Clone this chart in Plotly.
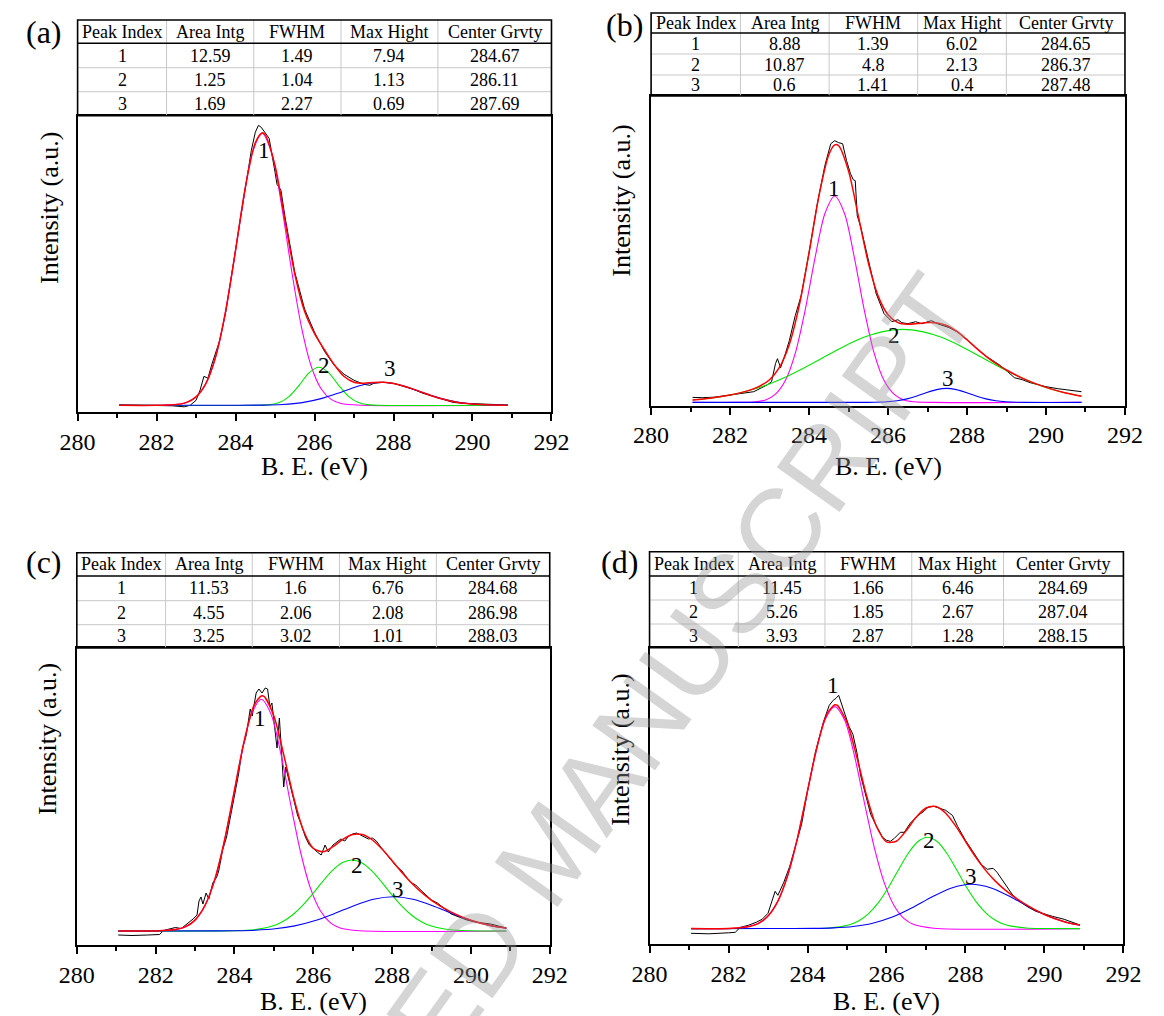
import plotly.graph_objects as go

# ---------------- data ----------------
col_headers = ["Peak Index", "Area Intg", "FWHM", "Max Hight", "Center Grvty"]
peak_index = ["1", "2", "3"]

# panel (a)
a_area = ["12.59", "1.25", "1.69"]
a_fwhm = ["1.49", "1.04", "2.27"]
a_maxh = ["7.94", "1.13", "0.69"]
a_center = ["284.67", "286.11", "287.69"]
a_raw_x = [281.05, 281.5, 282.0, 282.4, 282.7, 282.85, 283.0, 283.1, 283.2, 283.3, 283.4, 283.5, 283.6, 283.75,
           284.0, 284.25, 284.4, 284.5, 284.58, 284.65, 284.75, 284.85, 285.0, 285.05, 285.15, 285.25, 285.5,
           285.75, 286.0, 286.25, 286.5, 286.75, 287.0, 287.25, 287.4, 287.5, 287.75, 288.0, 288.25, 288.5,
           288.75, 289.0, 289.25, 289.5, 289.75, 290.0, 290.25, 290.5, 290.9]
a_raw_y = [7.5, 7.3, 7.0, 6.5, 5.5, 7.0, 12, 22, 36, 34, 48, 60, 72, 100, 163, 228, 262, 280, 287, 285, 280,
           274, 240, 228, 222, 196, 140, 103, 80, 61, 47, 38, 32, 28, 27, 29, 30, 29, 26, 23, 19, 16, 13, 10,
           9, 8.5, 8, 7.5, 7.3]
a_fit_x = [281.05, 282.0, 282.5, 282.75, 283.0, 283.25, 283.5, 283.75, 284.0, 284.25, 284.5, 284.67, 284.75,
           285.0, 285.25, 285.5, 285.75, 286.0, 286.25, 286.5, 286.75, 287.0, 287.25, 287.5, 287.75, 288.0,
           288.5, 289.0, 289.5, 290.0, 290.5, 290.9]
a_fit_y = [7.0, 7.0, 7.8, 9.7, 15.4, 28.9, 56.0, 101.5, 162.0, 225.4, 269.5, 279.4, 277.4, 246.5, 192.3,
           138.3, 100.7, 78.7, 62.6, 47.6, 35.8, 30.1, 29.1, 29.9, 30.0, 28.8, 23.2, 16.1, 10.9, 8.3, 7.3, 7.1]
a_p1_x = [281.05, 282.17, 282.67, 282.92, 283.17, 283.42, 283.67, 283.92, 284.17, 284.42, 284.67, 284.92,
          285.17, 285.42, 285.67, 285.92, 286.17, 286.42, 286.67, 287.17, 290.9]
a_p1_y = [7.0, 7.1, 8.8, 12.9, 23.3, 45.6, 85.0, 141.6, 206.0, 258.6, 279.0, 258.6, 206.0, 141.6, 85.0, 45.6,
          23.3, 12.9, 8.8, 7.1, 7.0]
a_p2_x = [281.05, 284.61, 284.86, 285.11, 285.36, 285.61, 285.86, 286.11, 286.36, 286.61, 286.86, 287.11,
          287.36, 287.61, 290.9]
a_p2_y = [7.0, 7.1, 7.7, 9.9, 16.0, 27.0, 39.4, 45.0, 39.4, 27.0, 16.0, 9.9, 7.7, 7.1, 7.0]
a_p3_x = [281.05, 283.69, 284.69, 285.19, 285.69, 286.19, 286.69, 287.19, 287.69, 288.19, 288.69, 289.19,
          289.69, 290.19, 290.69, 290.9]
a_p3_y = [7.0, 7.05, 7.2, 7.8, 9.7, 13.9, 20.4, 27.1, 30.0, 27.1, 20.4, 13.9, 9.7, 7.8, 7.2, 7.1]
a_lab_x = [284.72, 286.24, 287.92]
a_lab_y = [262, 47, 44]

# panel (b)
b_area = ["8.88", "10.87", "0.6"]
b_fwhm = ["1.39", "4.8", "1.41"]
b_maxh = ["6.02", "2.13", "0.4"]
b_center = ["284.65", "286.37", "287.48"]
b_raw_x = [281.05, 281.3, 281.6, 282.0, 282.3, 282.6, 282.8, 282.95, 283.05, 283.15, 283.2, 283.28, 283.4,
           283.5, 283.65, 283.8, 284.0, 284.2, 284.4, 284.55, 284.65, 284.75, 284.85, 284.95, 285.05, 285.12,
           285.17, 285.22, 285.3, 285.5, 285.7, 285.9, 286.1, 286.25, 286.35, 286.5, 286.7, 286.85, 287.0,
           287.1, 287.25, 287.4, 287.55, 287.75, 288.0, 288.25, 288.5, 288.7, 288.85, 289.0, 289.2, 289.4,
           289.6, 289.8, 290.0, 290.3, 290.6, 290.9]
b_raw_y = [8.3, 8.0, 8.5, 10.5, 12.0, 14.0, 18.0, 21.0, 24.0, 42, 47, 38, 52, 65, 90, 110, 153, 200, 240, 262,
           265, 263, 262, 245, 232, 226, 225, 190, 180, 145, 112, 92, 84, 86, 83, 82, 84, 82, 84, 85, 82, 80,
           78, 74, 66, 57, 49, 44, 40, 35, 28, 26, 23, 21, 19, 17, 15.5, 14.0]
b_fit_x = [281.05, 281.5, 282.0, 282.5, 282.75, 283.0, 283.25, 283.5, 283.75, 284.0, 284.25, 284.5, 284.65,
           284.75, 285.0, 285.25, 285.5, 285.75, 286.0, 286.25, 286.5, 286.75, 287.0, 287.25, 287.5, 287.75,
           288.0, 288.25, 288.5, 288.75, 289.0, 289.5, 290.0, 290.5, 290.9]
b_fit_y = [5.7, 7.5, 10.6, 15.6, 19.6, 26.0, 38.3, 61.3, 99.9, 153.0, 209.9, 251.0, 260.8, 260.0, 234.6,
           189.2, 143.2, 109.6, 90.9, 83.1, 81.4, 82.1, 83.1, 82.8, 79.9, 74.0, 65.9, 57.1, 48.9, 41.7, 35.7,
           25.8, 18.3, 12.7, 9.5]
b_p1_x = [281.05, 282.15, 282.65, 282.9, 283.15, 283.4, 283.65, 283.9, 284.15, 284.4, 284.65, 284.9, 285.15,
          285.4, 285.65, 285.9, 286.15, 286.4, 286.65, 287.15, 290.9]
b_p1_y = [3.3, 3.3, 4.0, 5.8, 11.6, 25.2, 52.4, 95.4, 147.6, 192.0, 209.7, 192.0, 147.6, 95.4, 52.4, 25.2,
          11.6, 5.8, 4.0, 3.3, 3.3]
b_p2_x = [281.05, 281.37, 281.87, 282.37, 282.87, 283.37, 283.87, 284.37, 284.87, 285.37, 285.87, 286.37,
          286.87, 287.37, 287.87, 288.37, 288.87, 289.37, 289.87, 290.37, 290.9]
b_p2_y = [5.7, 6.9, 9.7, 14.0, 20.0, 28.0, 37.8, 48.4, 59.0, 68.1, 74.1, 76.3, 74.1, 68.1, 59.0, 48.4, 37.8,
          28.0, 20.0, 14.0, 9.5]
b_p3_x = [281.05, 285.48, 285.98, 286.23, 286.48, 286.73, 286.98, 287.23, 287.48, 287.73, 287.98, 288.23,
          288.48, 288.73, 288.98, 289.48, 290.9]
b_p3_y = [3.3, 3.35, 3.9, 4.9, 6.8, 9.7, 13.2, 16.1, 17.3, 16.1, 13.2, 9.7, 6.8, 4.9, 3.9, 3.35, 3.3]
b_lab_x = [284.64, 286.14, 287.53]
b_lab_y = [217, 70, 27]

# panel (c)
c_area = ["11.53", "4.55", "3.25"]
c_fwhm = ["1.6", "2.06", "3.02"]
c_maxh = ["6.76", "2.08", "1.01"]
c_center = ["284.68", "286.98", "288.03"]
c_raw_x = [281.05, 281.4, 281.8, 282.1, 282.2, 282.35, 282.5, 282.65, 282.8, 282.95, 283.05, 283.1, 283.15,
           283.2, 283.28, 283.35, 283.45, 283.55, 283.6, 283.7, 283.8, 283.9, 284.0, 284.1, 284.2, 284.3,
           284.4, 284.45, 284.55, 284.62, 284.7, 284.78, 284.84, 284.9, 284.95, 285.02, 285.08, 285.14,
           285.18, 285.22, 285.25, 285.3, 285.4, 285.5, 285.6, 285.7, 285.8, 285.9, 286.0, 286.1, 286.2,
           286.3, 286.38, 286.5, 286.6, 286.7, 286.8, 286.9, 287.0, 287.1, 287.2, 287.3, 287.4, 287.5,
           287.6, 287.75, 287.9, 288.0, 288.1, 288.25, 288.4, 288.5, 288.6, 288.75, 288.9, 289.0, 289.15,
           289.3, 289.5, 289.7, 289.9, 290.1, 290.3, 290.5, 290.7, 290.9]
c_raw_y = [10, 9.5, 10, 10.5, 14.5, 16, 17.5, 16.5, 21, 26, 30, 44, 48, 41, 52, 46, 62, 68, 74, 95, 108, 128,
           150, 170, 196, 210, 236, 229, 252, 256, 252, 257, 256, 238, 242, 220, 197, 227, 200, 175, 158, 178,
           162, 148, 130, 120, 108, 100, 96, 93, 90, 100, 93, 100, 103, 106, 104, 109, 111, 112, 110, 108,
           106, 107, 104, 96, 89, 84, 79, 74, 66, 62, 60, 54, 48, 45, 42, 37, 31, 28, 25, 23, 22, 21, 19, 17]
c_fit_x = [281.05, 282.0, 282.5, 282.75, 283.0, 283.25, 283.5, 283.75, 284.0, 284.25, 284.5, 284.68, 284.75,
           285.0, 285.25, 285.5, 285.75, 286.0, 286.25, 286.5, 286.75, 287.0, 287.25, 287.5, 287.75, 288.0,
           288.25, 288.5, 288.75, 289.0, 289.5, 290.0, 290.5, 290.9]
c_fit_y = [14.0, 14.1, 15.4, 18.1, 24.9, 39.3, 65.4, 105.0, 154.9, 204.6, 239.8, 249.0, 248.6, 229.0, 190.3,
           147.8, 114.5, 96.8, 93.2, 98.3, 105.6, 110.5, 110.4, 105.0, 95.7, 84.3, 72.6, 61.8, 52.5, 44.7,
           32.9, 24.7, 19.4, 16.8]
c_p1_x = [281.05, 282.18, 282.68, 282.93, 283.18, 283.43, 283.68, 283.93, 284.18, 284.43, 284.68, 284.93,
          285.18, 285.43, 285.68, 285.93, 286.18, 286.43, 286.68, 287.18, 290.9]
c_p1_y = [14.0, 14.3, 17.0, 22.4, 34.3, 56.6, 92.5, 140.0, 190.8, 230.6, 245.7, 230.6, 190.8, 140.0, 92.5,
          56.6, 34.3, 22.4, 17.0, 14.3, 14.0]
c_p2_x = [281.05, 283.98, 284.48, 284.98, 285.23, 285.48, 285.73, 285.98, 286.23, 286.48, 286.73, 286.98,
          287.23, 287.48, 287.73, 287.98, 288.23, 288.48, 288.73, 288.98, 289.48, 289.98, 290.9]
c_p2_y = [14.0, 14.2, 15.2, 19.2, 23.6, 30.3, 39.6, 50.9, 63.1, 74.3, 82.2, 85.0, 82.2, 74.3, 63.1, 50.9,
          39.6, 30.3, 23.6, 19.2, 15.2, 14.2, 14.0]
c_p3_x = [281.05, 283.53, 284.03, 284.53, 285.03, 285.53, 286.03, 286.53, 287.03, 287.53, 288.03, 288.53,
          289.03, 289.53, 290.03, 290.53, 290.9]
c_p3_y = [14.0, 14.1, 14.3, 14.8, 16.2, 19.1, 24.2, 31.3, 39.3, 45.8, 48.3, 45.8, 39.3, 31.3, 24.2, 19.1, 16.8]
c_lab_x = [284.66, 287.11, 288.16]
c_lab_y = [227, 80, 56]

# panel (d)
d_area = ["11.45", "5.26", "3.93"]
d_fwhm = ["1.66", "1.85", "2.87"]
d_maxh = ["6.46", "2.67", "1.28"]
d_center = ["284.69", "287.04", "288.15"]
d_raw_x = [281.05, 281.5, 282.0, 282.17, 282.3, 282.5, 282.7, 282.85, 283.0, 283.1, 283.18, 283.25, 283.4,
           283.55, 283.7, 283.85, 284.0, 284.2, 284.4, 284.55, 284.65, 284.72, 284.79, 284.86, 284.95, 285.05,
           285.15, 285.25, 285.35, 285.45, 285.6, 285.75, 285.9, 286.0, 286.1, 286.2, 286.3, 286.35, 286.45,
           286.6, 286.8, 286.95, 287.05, 287.2, 287.35, 287.5, 287.6, 287.67, 287.8, 288.0, 288.2, 288.4,
           288.55, 288.7, 288.8, 289.0, 289.2, 289.37, 289.55, 289.78, 290.0, 290.2, 290.5, 290.7, 290.9]
d_raw_y = [11, 10.5, 11.5, 12, 17, 19, 22, 25, 31, 42, 53, 49, 62, 78, 100, 120, 153, 192, 222, 239, 244, 246,
           249, 240, 230, 218, 210, 192, 168, 152, 130, 118, 107, 104, 103, 106, 110, 112, 112, 121, 129, 133,
           137, 138, 136, 134, 131, 129, 118, 104, 92, 80, 75, 76, 72, 60, 49, 43, 38, 33, 30, 28, 25, 22, 19.3]
d_fit_x = [281.05, 282.0, 282.5, 282.75, 283.0, 283.25, 283.5, 283.75, 284.0, 284.25, 284.5, 284.69, 284.75,
           285.0, 285.25, 285.5, 285.75, 286.0, 286.25, 286.5, 286.75, 287.0, 287.25, 287.5, 287.75, 288.0,
           288.25, 288.5, 288.75, 289.0, 289.5, 290.0, 290.5, 290.9]
d_fit_y = [15.7, 15.9, 17.5, 20.7, 28.2, 43.2, 69.1, 107.0, 153.4, 198.8, 230.8, 239.5, 239.1, 221.9, 187.0,
           148.0, 117.5, 102.5, 103.1, 113.7, 127.0, 136.3, 137.8, 131.1, 118.4, 103.0, 87.7, 74.4, 63.4,
           54.5, 40.4, 29.8, 22.6, 19.2]
d_p1_x = [281.05, 282.19, 282.69, 282.94, 283.19, 283.44, 283.69, 283.94, 284.19, 284.44, 284.69, 284.94,
          285.19, 285.44, 285.69, 285.94, 286.19, 286.44, 286.69, 287.19, 290.9]
d_p1_y = [15.7, 16.1, 19.7, 25.9, 38.8, 61.9, 96.9, 141.8, 188.4, 224.2, 237.7, 224.2, 188.4, 141.8, 96.9,
          61.9, 38.8, 25.9, 19.7, 16.1, 15.7]
d_p2_x = [281.05, 284.04, 284.54, 285.04, 285.29, 285.54, 285.79, 286.04, 286.29, 286.54, 286.79, 287.04,
          287.29, 287.54, 287.79, 288.04, 288.29, 288.54, 288.79, 289.04, 289.54, 290.04, 290.9]
d_p2_y = [15.7, 15.8, 16.3, 19.3, 23.3, 30.5, 41.4, 56.3, 73.6, 90.3, 102.5, 107.0, 102.5, 90.3, 73.6, 56.3,
          41.4, 30.5, 23.3, 19.3, 16.3, 15.8, 15.7]
d_p3_x = [281.05, 283.65, 284.15, 284.65, 285.15, 285.65, 286.15, 286.65, 287.15, 287.65, 288.15, 288.65,
          289.15, 289.65, 290.15, 290.65, 290.9]
d_p3_y = [15.7, 15.75, 15.9, 16.4, 17.8, 21.1, 27.2, 36.5, 47.3, 56.4, 60.0, 56.4, 47.3, 36.5, 27.2, 21.1, 19.2]
d_lab_x = [284.65, 287.08, 288.15]
d_lab_y = [259, 104, 68]

x_ticks = [280, 282, 284, 286, 288, 290, 292]

# ---------------- layout geometry (pixels) ----------------
W, H = 1164, 1016
SERIF = "Liberation Serif, Times New Roman, Times, serif"


def fx(px):
    return px / W


def fy(py):
    return 1 - py / H


panels = [
    dict(name="(a)", raw=(a_raw_x, a_raw_y), fit=(a_fit_x, a_fit_y),
         peaks=[(a_p1_x, a_p1_y), (a_p2_x, a_p2_y), (a_p3_x, a_p3_y)], labs=(a_lab_x, a_lab_y),
         table=[peak_index, a_area, a_fwhm, a_maxh, a_center],
         px0=61.5, px1=550.5, rows=[20, 43.3, 67.7, 91.7, 115.7], bottom=412.3,
         cols=[61.5, 153.3, 243.3, 333.3, 433.3, 550.5],
         tag=(27, 32), ytitle=(33, 208), xtitle=466),
    dict(name="(b)", raw=(b_raw_x, b_raw_y), fit=(b_fit_x, b_fit_y),
         peaks=[(b_p1_x, b_p1_y), (b_p2_x, b_p2_y), (b_p3_x, b_p3_y)], labs=(b_lab_x, b_lab_y),
         table=[peak_index, b_area, b_fwhm, b_maxh, b_center],
         px0=653.3, px1=1142.3, rows=[13, 33, 54, 75, 96], bottom=405.7,
         cols=[653.3, 745.5, 837.0, 928.4, 1019.9, 1142.3],
         tag=(626, 25), ytitle=(623, 201), xtitle=466),
    dict(name="(c)", raw=(c_raw_x, c_raw_y), fit=(c_fit_x, c_fit_y),
         peaks=[(c_p1_x, c_p1_y), (c_p2_x, c_p2_y), (c_p3_x, c_p3_y)], labs=(c_lab_x, c_lab_y),
         table=[peak_index, c_area, c_fwhm, c_maxh, c_center],
         px0=60.7, px1=548.7, rows=[552.7, 576, 600.7, 624.7, 648], bottom=945,
         cols=[60.7, 152.3, 241.7, 331.7, 431.7, 548.7],
         tag=(27, 562), ytitle=(30, 739), xtitle=1001),
    dict(name="(d)", raw=(d_raw_x, d_raw_y), fit=(d_fit_x, d_fit_y),
         peaks=[(d_p1_x, d_p1_y), (d_p2_x, d_p2_y), (d_p3_x, d_p3_y)], labs=(d_lab_x, d_lab_y),
         table=[peak_index, d_area, d_fwhm, d_maxh, d_center],
         px0=651.7, px1=1140.7, rows=[551.7, 576, 600, 624, 647.7], bottom=944.3,
         cols=[651.7, 743.3, 832.7, 922.3, 1017.0, 1140.7],
         tag=(621, 562), ytitle=(621, 750), xtitle=1001),
]

peak_colors = ["#ff00ff", "#00e600", "#0000ff"]

fig = go.Figure()
shapes = []
annotations = []
layout_axes = {}

for i, p in enumerate(panels, start=1):
    xa = "x" if i == 1 else f"x{i}"
    ya = "y" if i == 1 else f"y{i}"
    top = p["rows"][-1]
    yspan = p["bottom"] - top

    fig.add_trace(go.Scatter(x=p["raw"][0], y=p["raw"][1], mode="lines", xaxis=xa, yaxis=ya,
                             line=dict(color="black", width=1), showlegend=False))
    for (px_, py_), c in zip(p["peaks"], peak_colors):
        fig.add_trace(go.Scatter(x=px_, y=py_, mode="lines", xaxis=xa, yaxis=ya,
                                 line=dict(color=c, width=1.1, shape="spline", smoothing=0.8),
                                 showlegend=False))
    fig.add_trace(go.Scatter(x=p["fit"][0], y=p["fit"][1], mode="lines", xaxis=xa, yaxis=ya,
                             line=dict(color="#ff0000", width=1.5, shape="spline", smoothing=0.8),
                             showlegend=False))

    layout_axes["xaxis" if i == 1 else f"xaxis{i}"] = dict(
        domain=[fx(p["px0"]), fx(p["px1"])], anchor=ya, range=[280, 292],
        tickvals=x_ticks, ticks="outside", ticklen=7, tickwidth=1.5, tickcolor="black",
        minor=dict(ticks="outside", ticklen=4, tickwidth=1.5, tickcolor="black", dtick=1),
        showline=True, linecolor="black", linewidth=1.6, mirror=True,
        showgrid=False, zeroline=False,
        tickfont=dict(family=SERIF, size=24, color="black"))
    layout_axes["yaxis" if i == 1 else f"yaxis{i}"] = dict(
        domain=[fy(p["bottom"]), fy(top)], anchor=xa, range=[0, yspan],
        showticklabels=False, ticks="", showline=True, linecolor="black", linewidth=1.6, mirror=True,
        showgrid=False, zeroline=False)

    for k, (lx, ly) in enumerate(zip(p["labs"][0], p["labs"][1])):
        annotations.append(dict(x=lx, y=ly, xref=xa, yref=ya, text=peak_index[k], showarrow=False,
                                font=dict(family=SERIF, size=23, color="black"),
                                xanchor="center", yanchor="middle"))

    rows = p["rows"]
    cols = p["cols"]
    for r in rows[2:-1]:
        shapes.append(dict(type="line", xref="paper", yref="paper", x0=fx(cols[0]), x1=fx(cols[-1]),
                           y0=fy(r), y1=fy(r), line=dict(color="#c8c8c8", width=1)))
    for c in cols[1:-1]:
        shapes.append(dict(type="line", xref="paper", yref="paper", x0=fx(c), x1=fx(c),
                           y0=fy(rows[0]), y1=fy(rows[-1]), line=dict(color="#c8c8c8", width=1)))
    shapes.append(dict(type="line", xref="paper", yref="paper", x0=fx(cols[0]), x1=fx(cols[-1]),
                       y0=fy(rows[1]), y1=fy(rows[1]), line=dict(color="black", width=1.6)))
    shapes.append(dict(type="rect", xref="paper", yref="paper", x0=fx(cols[0]), x1=fx(cols[-1]),
                       y0=fy(rows[0]), y1=fy(rows[-1]), line=dict(color="black", width=1.6)))

    for ci in range(5):
        cx = fx((cols[ci] + cols[ci + 1]) / 2)
        annotations.append(dict(x=cx, y=fy((rows[0] + rows[1]) / 2), xref="paper", yref="paper",
                                text=col_headers[ci], showarrow=False, xanchor="center", yanchor="middle",
                                font=dict(family=SERIF, size=18, color="black")))
        for ri in range(3):
            annotations.append(dict(x=cx, y=fy((rows[ri + 1] + rows[ri + 2]) / 2), xref="paper",
                                    yref="paper", text=p["table"][ci][ri], showarrow=False,
                                    xanchor="center", yanchor="middle",
                                    font=dict(family=SERIF, size=18, color="black")))

    annotations.append(dict(x=fx(p["tag"][0]), y=fy(p["tag"][1]), xref="paper", yref="paper",
                            text=p["name"], showarrow=False, xanchor="center", yanchor="middle",
                            font=dict(family=SERIF, size=32, color="black")))
    annotations.append(dict(x=fx(p["ytitle"][0]), y=fy(p["ytitle"][1]), xref="paper", yref="paper",
                            text="Intensity (a.u.)", textangle=-90, showarrow=False,
                            xanchor="center", yanchor="middle",
                            font=dict(family=SERIF, size=26, color="black")))
    annotations.append(dict(x=fx((p["px0"] + p["px1"]) / 2), y=fy(p["xtitle"]), xref="paper",
                            yref="paper", text="B. E. (eV)", showarrow=False,
                            xanchor="center", yanchor="middle",
                            font=dict(family=SERIF, size=26, color="black")))

annotations.append(dict(x=fx(548), y=fy(852), xref="paper", yref="paper", text="ACCEPTED MANUSCRIPT",
                        textangle=-54.5, showarrow=False, xanchor="center", yanchor="middle",
                        font=dict(family="Liberation Sans, Arial, sans-serif", size=112,
                                  color="rgba(150,150,150,0.40)")))

fig.update_layout(width=W, height=H, autosize=False, margin=dict(l=0, r=0, t=0, b=0, pad=0),
                  paper_bgcolor="white", plot_bgcolor="white", showlegend=False,
                  shapes=shapes, annotations=annotations, **layout_axes)

fig.write_html("out.html", config={"responsive": False},
               default_width=f"{W}px", default_height=f"{H}px")
